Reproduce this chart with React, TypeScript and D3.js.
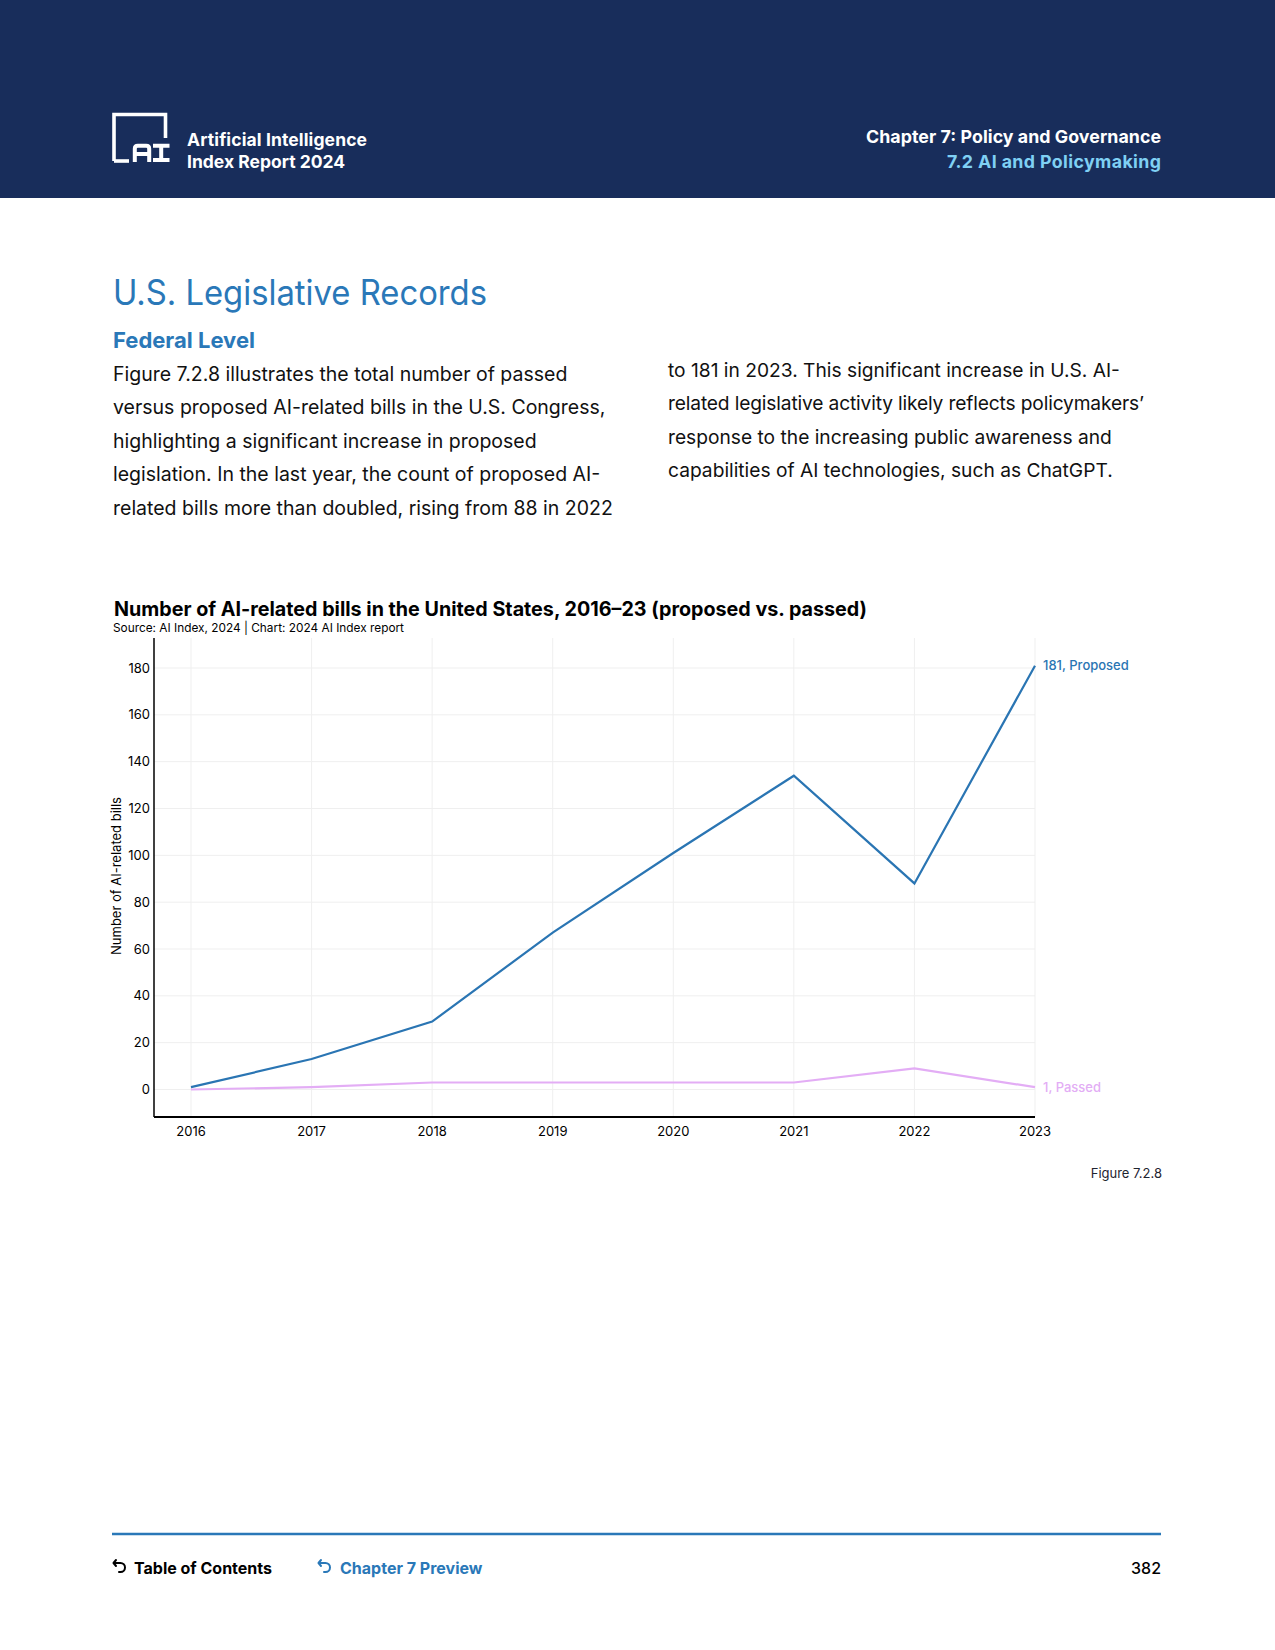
import * as d3 from "d3";

const years = [2016, 2017, 2018, 2019, 2020, 2021, 2022, 2023];
const proposed = [1, 13, 29, 67, 101, 134, 88, 181];
const passed = [0, 1, 3, 3, 3, 3, 9, 1];
const yTicks = [0, 20, 40, 60, 80, 100, 120, 140, 160, 180];

const leftPara = [
  "Figure 7.2.8 illustrates the total number of passed",
  "versus proposed AI-related bills in the U.S. Congress,",
  "highlighting a significant increase in proposed",
  "legislation. In the last year, the count of proposed AI-",
  "related bills more than doubled, rising from 88 in 2022",
];
const rightPara = [
  "to 181 in 2023. This significant increase in U.S. AI-",
  "related legislative activity likely reflects policymakers’",
  "response to the increasing public awareness and",
  "capabilities of AI technologies, such as ChatGPT.",
];

const W = 1275;
const H = 1650;
const NAVY = "#182d5b";
const BLUE = "#2a78b8";
const PROPOSED = "#2a75b3";
const PASSED = "#e3adf5";
const FONT = "Inter, 'Noto Sans', sans-serif";

export default function App() {
  const x = d3.scaleLinear().domain([2016, 2023]).range([191, 1035]);
  const y = d3.scaleLinear().domain([0, 180]).range([1089.5, 668]);
  const axisLeft = 154;
  const axisTop = 638;
  const axisBottom = 1117;

  const line = d3
    .line<number>()
    .x((_, i) => x(years[i]))
    .y((d) => y(d));

  const last = years.length - 1;

  return (
    <div style={{ position: "absolute", left: 0, top: 0, width: W, height: H, background: "#fff" }}>
      <svg width={W} height={H} style={{ display: "block", fontFamily: FONT }}>
        {/* header band */}
        <rect x={0} y={0} width={W} height={198} fill={NAVY} />
        <g fill="none" stroke="#fff">
          <path d="M114,161 V114.5 H165.5 V138" strokeWidth={3.6} />
          <path d="M114,161 H129" strokeWidth={3.6} />
          <path
            d="M134.8,162 V148.8 Q134.8,145.8 137.8,145.8 H146.2 Q149.2,145.8 149.2,148.8 V162 M134.8,154 H149.2"
            strokeWidth={4}
          />
          <path d="M153,145.8 H169.5 M161.2,145.8 V160 M153,160 H169.5" strokeWidth={4} />
        </g>
        <text x={187} y={146} fill="#fff" fontSize={17.5} fontWeight={700} textLength={180}>
          Artificial Intelligence
        </text>
        <text x={187} y={168} fill="#fff" fontSize={17.5} fontWeight={700}>
          Index Report 2024
        </text>
        <text x={1161} y={143} fill="#fff" fontSize={17.8} fontWeight={700} textAnchor="end" textLength={295}>
          Chapter 7: Policy and Governance
        </text>
        <text x={1161} y={168} fill="#7fd0f4" fontSize={17.8} fontWeight={700} textAnchor="end" textLength={214}>
          7.2 AI and Policymaking
        </text>

        {/* headings and body */}
        <text x={113} y={305} fill={BLUE} fontSize={35} fontWeight={400} textLength={374} lengthAdjust="spacingAndGlyphs">
          U.S. Legislative Records
        </text>
        <text x={113} y={348} fill={BLUE} fontSize={22} fontWeight={700}>
          Federal Level
        </text>
        {leftPara.map((t, i) => (
          <text key={"l" + i} x={113} y={381 + i * 33.4} fill="#111" fontSize={19.5}>
            {t}
          </text>
        ))}
        {rightPara.map((t, i) => (
          <text
            key={"r" + i}
            x={668}
            y={377 + i * 33.4}
            fill="#111"
            fontSize={19.2}
            textLength={i === 1 ? 476 : undefined}
          >
            {t}
          </text>
        ))}

        {/* chart titles */}
        <text x={114} y={616} fill="#000" fontSize={20} fontWeight={700} textLength={753} lengthAdjust="spacingAndGlyphs">
          Number of AI-related bills in the United States, 2016–23 (proposed vs. passed)
        </text>
        <text x={113} y={632} fill="#000" fontSize={12} textLength={291} lengthAdjust="spacingAndGlyphs">
          Source: AI Index, 2024 | Chart: 2024 AI Index report
        </text>

        {/* grid */}
        <g stroke="#efefef" strokeWidth={1}>
          {yTicks.map((t) => (
            <line key={"gy" + t} x1={axisLeft} x2={x(2023)} y1={y(t)} y2={y(t)} />
          ))}
          {years.map((yr) => (
            <line key={"gx" + yr} x1={x(yr)} x2={x(yr)} y1={axisTop} y2={axisBottom} />
          ))}
        </g>

        {/* axes */}
        <line x1={axisLeft} x2={axisLeft} y1={axisTop} y2={axisBottom} stroke="#000" strokeWidth={1.5} />
        <line x1={axisLeft} x2={x(2023)} y1={axisBottom} y2={axisBottom} stroke="#000" strokeWidth={2} />
        {yTicks.map((t) => (
          <text key={"ty" + t} x={150} y={y(t)} dy="0.35em" fontSize={13} textAnchor="end" fill="#000">
            {t}
          </text>
        ))}
        {years.map((yr) => (
          <text key={"tx" + yr} x={x(yr)} y={1136} fontSize={13} textAnchor="middle" fill="#000">
            {yr}
          </text>
        ))}
        <text transform={`translate(121,${876}) rotate(-90)`} fontSize={13} textAnchor="middle" fill="#000">
          Number of AI-related bills
        </text>

        {/* lines */}
        <path d={line(passed) || ""} fill="none" stroke={PASSED} strokeWidth={2.2} />
        <path d={line(proposed) || ""} fill="none" stroke={PROPOSED} strokeWidth={2.2} />
        <text x={x(years[last]) + 8} y={y(proposed[last])} dy="0.35em" fontSize={13} fontWeight={500} fill={PROPOSED}>
          {proposed[last]}, Proposed
        </text>
        <text x={x(years[last]) + 8} y={y(passed[last])} dy="0.35em" fontSize={13} fontWeight={500} fill={PASSED}>
          {passed[last]}, Passed
        </text>

        <text x={1162} y={1178} fontSize={13} textAnchor="end" fill="#1e2430">
          Figure 7.2.8
        </text>

        {/* footer */}
        <line x1={112} x2={1161} y1={1534} y2={1534} stroke={BLUE} strokeWidth={2.5} />
        <g fill="none" strokeWidth={2} strokeLinecap="round" strokeLinejoin="round">
          <path d="M116,1560 L113.5,1563 L116,1566 M113.5,1563 H120.5 A4.5,4.5 0 0 1 120.5,1572 H119" stroke="#000" />
          <path d="M321,1560 L318.5,1563 L321,1566 M318.5,1563 H325.5 A4.5,4.5 0 0 1 325.5,1572 H324" stroke={BLUE} />
        </g>
        <text x={134} y={1574} fontSize={16} fontWeight={700} fill="#000">
          Table of Contents
        </text>
        <text x={340} y={1574} fontSize={16} fontWeight={700} fill={BLUE}>
          Chapter 7 Preview
        </text>
        <text x={1161} y={1574} fontSize={16} fontWeight={500} textAnchor="end" fill="#000">
          382
        </text>
      </svg>
    </div>
  );
}
